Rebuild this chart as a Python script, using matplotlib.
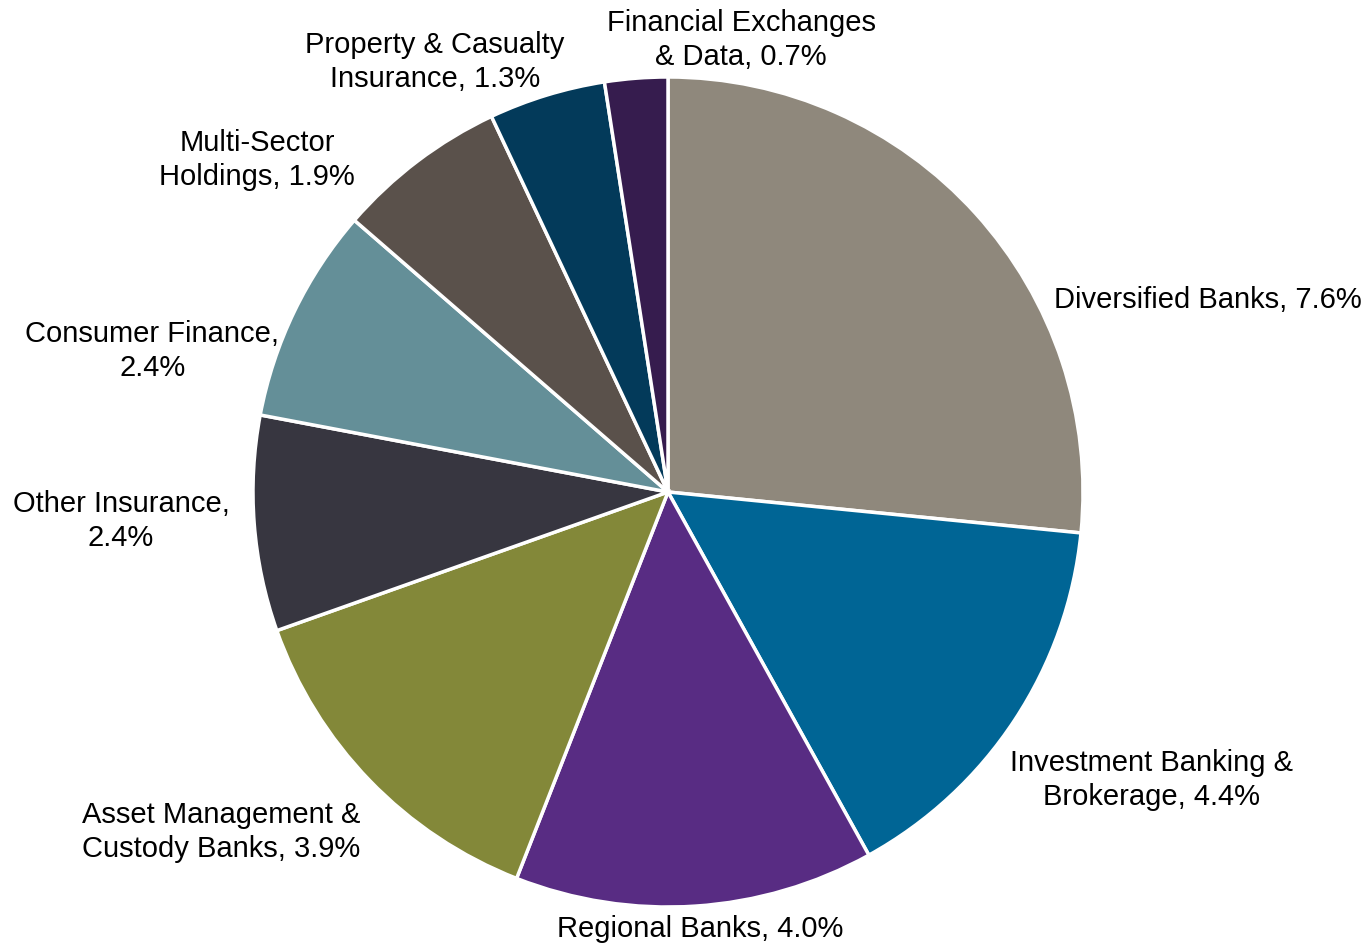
import matplotlib.pyplot as plt

plt.rcParams['font.family'] = ['Liberation Sans', 'DejaVu Sans']

# sector weights (%)
labels = ['Diversified Banks', 'Investment Banking &\nBrokerage', 'Regional Banks',
          'Asset Management &\nCustody Banks', 'Other Insurance,\n', 'Consumer Finance,\n',
          'Multi-Sector\nHoldings', 'Property & Casualty\nInsurance', 'Financial Exchanges\n& Data']
values = [7.6, 4.4, 4.0, 3.9, 2.4, 2.4, 1.9, 1.3, 0.7]
colors = ['#8F887C', '#006595', '#582C83', '#838839', '#373640',
          '#648F98', '#5A514B', '#033A5A', '#361C4E']

# label centres, in pie-radius units
label_pos = [(1.301, 0.463), (1.166, -0.694), (0.077, -1.053),
             (-1.077, -0.819), (-1.318, -0.070), (-1.243, 0.340),
             (-0.990, 0.800), (-0.561, 1.036), (0.176, 1.089)]

fig = plt.figure(figsize=(13.67, 9.46), dpi=100)
ax = fig.add_axes([0, 0, 1, 1])

ax.pie(values, colors=colors, startangle=90, counterclock=False, radius=1,
       wedgeprops=dict(edgecolor='white', linewidth=2.5))

for lab, v, (x, y) in zip(labels, values, label_pos):
    if lab.endswith(',\n'):
        txt = f"{lab}{v:.1f}%"
    else:
        txt = f"{lab}, {v:.1f}%"
    ax.text(x, y, txt, ha='center', va='center', multialignment='center',
            fontsize=21, linespacing=1.24, color='black')

ax.set_xlim(-668 / 415, (1367 - 668) / 415)
ax.set_ylim(-(946 - 492) / 415, 492 / 415)
ax.set_aspect('auto')
ax.axis('off')

fig.savefig('out.png', dpi=100, facecolor='white')
